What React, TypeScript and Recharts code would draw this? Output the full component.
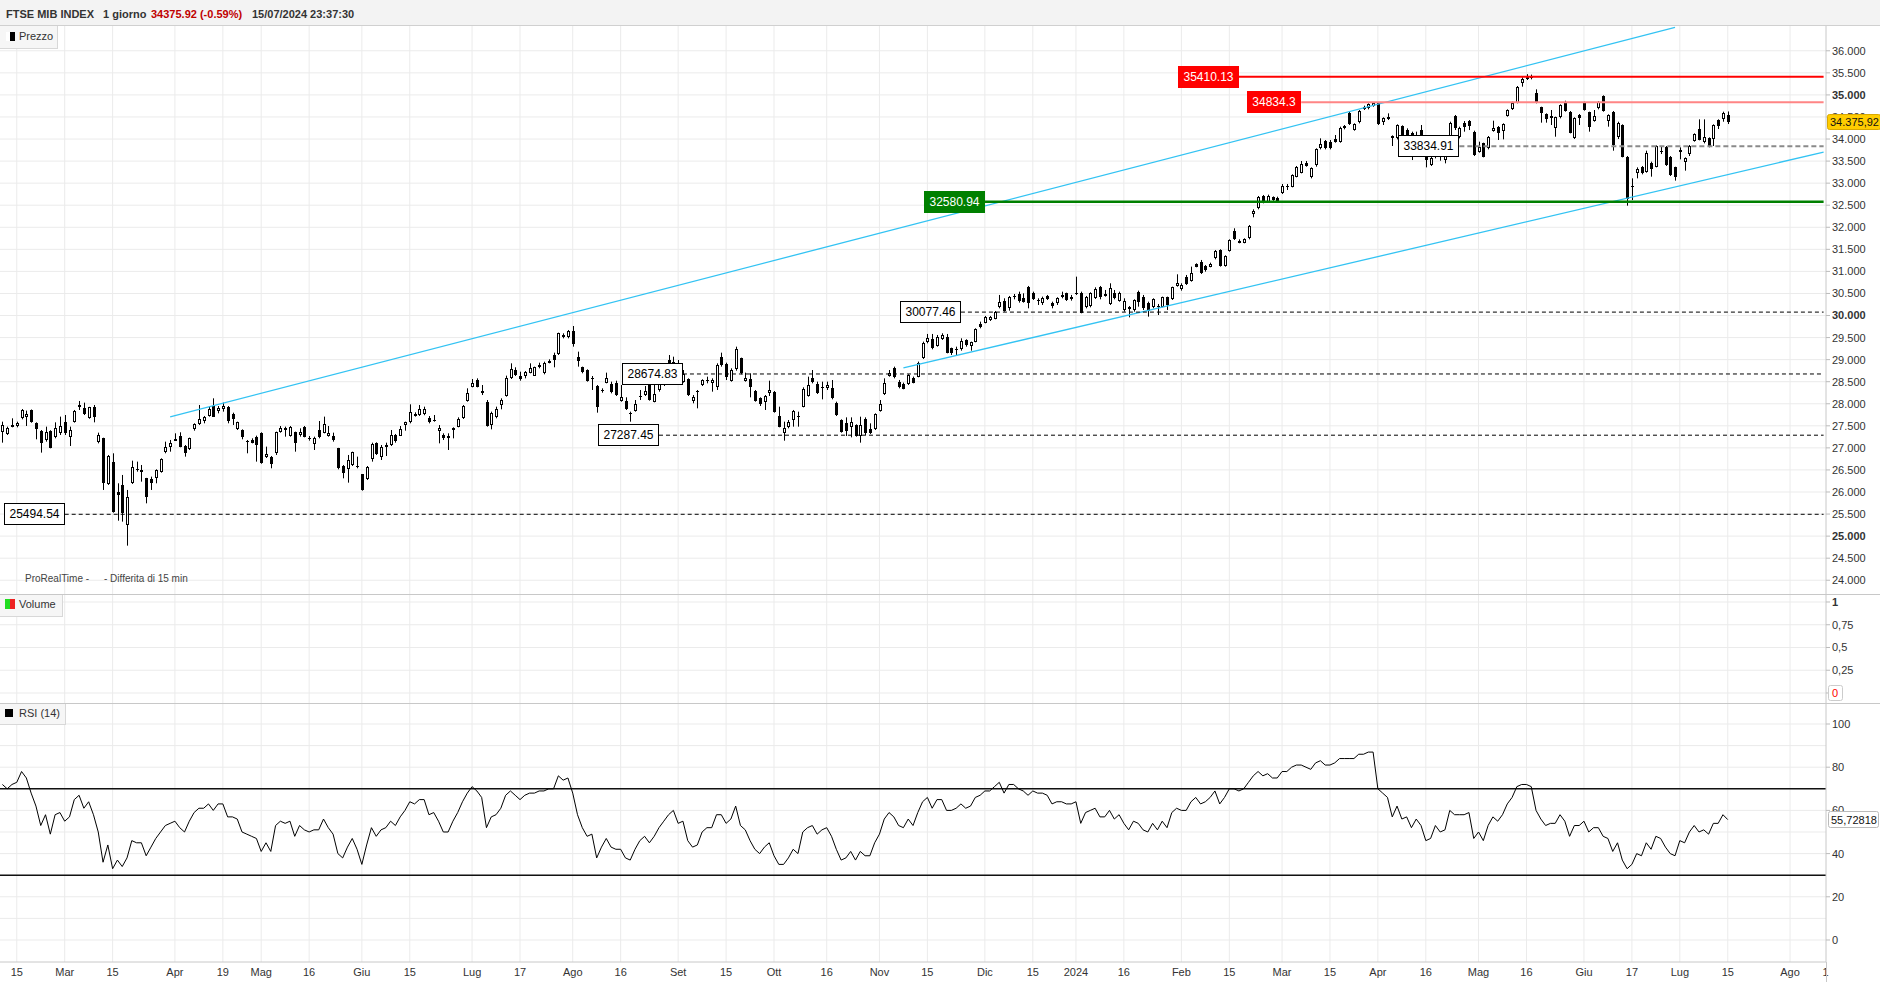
import React from 'react';
import { ComposedChart, Bar, Line, XAxis, YAxis, CartesianGrid, ReferenceLine } from 'recharts';

const FONT = '"Liberation Sans", Arial, Helvetica, sans-serif';

// FTSE MIB daily candles, 10 Feb 2023 -> 15 Jul 2024 : [open, high, low, close]
const ohlc: number[][] = [
  [27368,27594,27118,27519],[27307,27481,27292,27443],[27519,27670,27466,27525],[27496,27594,27466,27557],[27670,27881,27647,27859],
  [27692,27844,27496,27768],[27859,27870,27570,27579],[27557,27579,27194,27420],[27390,27405,26892,27103],[27179,27481,27141,27368],
  [27390,27400,26990,26995],[27239,27579,27217,27443],[27330,27708,27292,27496],[27579,27745,27292,27330],[27239,27481,27043,27405],
  [27579,27859,27572,27844],[27965,28063,27859,27980],[27897,28025,27745,27768],[27670,27930,27660,27919],[27934,27972,27579,27692],
  [27141,27345,27103,27292],[27217,27230,26046,26197],[26182,26839,26159,26816],[26688,26877,25532,25554],[26008,26197,25350,25932],
  [26159,26386,25328,25517],[25252,26046,24784,25894],[26197,26710,26182,26559],[26530,26688,26461,26515],[26499,26612,26234,26461],
  [26310,26320,25743,25894],[26295,26348,26046,26212],[26310,26514,26197,26499],[26461,26763,26438,26741],[26899,27141,26877,27028],
  [27028,27179,26914,27118],[27190,27330,27179,27200],[27269,27353,27013,27028],[27043,27065,26801,26877],[26967,27232,26952,27217],
  [27420,27557,27390,27534],[27534,27972,27519,27647],[27617,27723,27557,27708],[27730,27934,27708,27874],[27949,28123,27700,27708],
  [27844,27949,27783,27912],[27874,28025,27821,27949],[27934,27949,27557,27617],[27761,27798,27519,27647],[27420,27594,27405,27579],
  [27405,27420,27194,27239],[27150,27179,26877,27135],[27179,27217,27103,27118],[27254,27277,26688,27065],[27345,27353,26640,26650],
  [26786,27028,26770,26854],[26801,26816,26537,26635],[26877,27368,26839,27353],[27368,27496,27345,27451],[27443,27481,27254,27405],
  [27277,27496,27254,27466],[27353,27368,26914,27103],[27292,27443,27254,27368],[27481,27496,27239,27254],[27232,27269,27164,27194],
  [27088,27254,26952,27232],[27405,27609,27217,27239],[27345,27708,27330,27541],[27277,27496,27254,27345],[27269,27345,27141,27179],
  [26990,27000,26514,26537],[26589,26612,26310,26424],[26514,26839,26212,26725],[26612,26914,26589,26899],[26580,26801,26537,26570],
  [26401,26408,26030,26046],[26287,26589,26272,26574],[26748,27118,26688,27088],[27118,27126,26839,26854],[26801,27065,26725,27028],
  [27013,27118,26816,27065],[27065,27405,27043,27292],[27292,27315,27118,27164],[27277,27496,27269,27420],[27519,27594,27390,27579],
  [27579,27987,27557,27806],[27755,27806,27708,27765],[27745,27972,27723,27874],[27775,27934,27740,27874],[27685,27722,27556,27579],
  [27640,27745,27594,27625],[27390,27518,27103,27443],[27292,27330,27179,27216],[27277,27330,26952,27216],[27405,27466,27216,27443],
  [27481,27692,27466,27647],[27670,27972,27655,27949],[28070,28350,28047,28236],[28387,28561,28372,28478],[28538,28576,28372,28387],
  [28297,28425,28198,28236],[28047,28085,27481,27496],[27518,27821,27420,27798],[27707,27934,27670,27874],[27972,28123,27874,28085],
  [28176,28637,28161,28576],[28576,28916,28561,28780],[28765,28826,28629,28652],[28629,28727,28523,28554],[28629,28742,28576,28727],
  [28705,28916,28690,28818],[28637,28841,28629,28826],[28826,28931,28803,28878],[28690,28954,28667,28916],[28931,29007,28916,28977],
  [29105,29158,28826,28992],[29128,29611,29105,29596],[29558,29596,29483,29506],[29506,29672,29483,29649],[29657,29762,29294,29354],
  [29052,29181,28841,28977],[28826,28841,28690,28712],[28765,28780,28501,28523],[28580,28629,28312,28570],[28402,28425,27798,27934],
  [28318,28350,28251,28305],[28478,28705,28463,28576],[28448,28501,28236,28274],[28478,28523,28176,28198],[28070,28425,28047,28161],
  [28070,28146,27859,27874],[27790,27821,27594,27775],[27843,28085,27821,27987],[28165,28312,28085,28155],[28198,28402,28176,28289],
  [28448,28501,28070,28085],[28047,28425,28032,28213],[28312,28501,28274,28463],[28425,28727,28402,28652],[28992,29105,28765,28803],
  [28727,29067,28690,28954],[28916,28992,28576,28614],[28501,28765,28478,28674],[28554,28576,28176,28198],[28070,28198,28010,28161],
  [28280,28312,27896,28268],[28425,28554,28402,28538],[28530,28614,28463,28516],[28478,28576,28274,28538],[28387,28916,28312,28878],
  [29052,29158,28841,28878],[28901,28931,28538,28614],[28523,28803,28501,28765],[28780,29294,28750,29234],[29030,29045,28667,28690],
  [28523,28705,28501,28576],[28554,28690,28146,28387],[28297,28312,28047,28070],[28123,28146,27949,27987],[28047,28198,27859,28176],
  [28236,28523,28176,28312],[28274,28289,27798,27821],[27722,27934,27466,27481],[27345,27594,27163,27443],[27466,27632,27443,27594],
  [27632,27859,27481,27843],[27722,27821,27481,27692],[27934,28372,27919,28327],[28176,28614,28161,28425],[28576,28765,28463,28501],
  [28448,28501,28221,28236],[28380,28501,28100,28365],[28350,28501,28312,28425],[28350,28538,28100,28123],[28025,28047,27722,27745],
  [27632,27647,27345,27367],[27556,27692,27269,27390],[27481,27692,27239,27594],[27518,27534,27254,27269],[27269,27707,27118,27518],
  [27647,27692,27292,27330],[27420,27556,27315,27345],[27420,27783,27405,27760],[27843,28085,27821,27987],[28221,28576,28198,28478],
  [28629,28765,28614,28705],[28803,28841,28576,28614],[28501,28539,28350,28388],[28448,28479,28328,28343],[28448,28667,28426,28652],
  [28592,28615,28463,28479],[28615,28955,28600,28932],[29030,29408,29015,29370],[29393,29582,29370,29483],[29461,29582,29234,29257],
  [29317,29559,29294,29521],[29468,29597,29446,29559],[29506,29582,29143,29159],[29257,29272,29106,29143],[29240,29294,29091,29228],
  [29234,29483,29204,29423],[29446,29461,29294,29332],[29310,29408,29204,29393],[29408,29710,29393,29687],[29808,29861,29710,29733],
  [29838,29990,29823,29959],[29899,29990,29876,29959],[29922,30103,29914,30088],[30186,30466,30163,30314],[30337,30390,30088,30103],
  [30163,30443,30110,30428],[30450,30488,30367,30436],[30488,30541,30292,30337],[30390,30503,30292,30314],[30639,30670,30163,30277],
  [30503,30541,30352,30375],[30345,30390,30239,30330],[30277,30428,30239,30390],[30450,30466,30352,30375],[30292,30314,30163,30216],
  [30277,30413,30239,30390],[30466,30541,30390,30413],[30503,30518,30330,30352],[30413,30466,30337,30367],[30518,30881,30466,30488],
  [30518,30541,30050,30065],[30186,30443,30163,30428],[30216,30526,30186,30503],[30390,30639,30375,30594],[30639,30670,30367,30413],
  [30488,30579,30428,30450],[30262,30730,30239,30617],[30503,30579,30367,30390],[30337,30541,30314,30518],[30126,30390,30088,30337],
  [30186,30216,29959,30148],[30126,30367,30088,30352],[30541,30564,30201,30314],[30428,30466,30126,30163],[30292,30314,29974,30110],
  [30186,30390,30163,30367],[30225,30262,30012,30208],[30201,30428,30186,30413],[30413,30428,30126,30239],[30367,30654,30352,30639],
  [30670,30934,30654,30745],[30594,30730,30564,30692],[30881,30919,30692,30715],[30790,31108,30768,30957],[31168,31183,31093,31108],
  [31221,31259,30941,30972],[31123,31145,30994,31032],[31108,31198,31093,31168],[31297,31485,31274,31470],[31485,31501,31108,31123],
  [31123,31365,31108,31350],[31470,31727,31448,31712],[31924,31977,31712,31727],[31697,31727,31637,31652],[31652,31750,31637,31727],
  [31750,32052,31727,32029],[32301,32407,32226,32377],[32430,32709,32407,32694],[32709,32732,32543,32581],[32581,32740,32560,32709],
  [32678,32700,32600,32618],[32656,32693,32580,32595],[32769,32981,32754,32935],[32925,32981,32845,32915],[32920,33200,32905,33185],
  [33147,33389,33132,33373],[33237,33502,33222,33434],[33464,33502,33373,33389],[33147,33358,33109,33336],[33411,33789,33373,33766],
  [33789,34016,33766,33887],[33963,33978,33766,33789],[33940,33978,33766,33789],[34001,34091,33917,33940],[33940,34280,33917,34257],
  [34242,34318,34220,34295],[34597,34620,34318,34333],[34204,34356,34189,34340],[34378,34658,34356,34643],[34673,34756,34658,34733],
  [34696,34809,34673,34786],[34756,34825,34733,34815],[34824,34834.3,34318,34340],[34393,34492,34318,34469],[34492,34582,34431,34446],
  [34068,34084,33842,34031],[34016,34333,33993,34318],[34295,34310,33993,34016],[34204,34242,33978,34053],[34129,34167,33524,33827],
  [33827,34167,33789,34068],[34204,34318,33842,33902],[33827,33902,33358,33524],[33404,33638,33389,33577],[33600,33902,33562,33866],
  [33978,34016,33509,33675],[33524,33827,33449,33751],[33978,34393,33940,34356],[34522,34545,34204,34242],[34053,34280,34016,34242],
  [34371,34408,34167,34280],[34408,34431,34204,34295],[34167,34189,33615,33638],[33713,33940,33691,33827],[33902,33917,33585,33600],
  [33789,34068,33766,34038],[34189,34416,34167,34242],[34280,34295,33978,34144],[34189,34356,33993,34333],[34522,34673,34507,34658],
  [34673,34847,34658,34824],[34824,35202,34809,35172],[35277,35398,35187,35353],[35390,35470,35338,35410],[35400,35460,35353,35385],
  [35051,35126,34809,34824],[34718,34733,34371,34597],[34567,34582,34371,34446],[34522,34658,34318,34469],[34242,34507,34053,34492],
  [34492,34786,34469,34771],[34847,34869,34620,34643],[34620,34635,34129,34144],[34016,34492,34001,34469],[34545,34567,34318,34469],
  [34809,34847,34643,34658],[34605,34620,34167,34265],[34416,34658,34393,34522],[34696,34862,34673,34832],[34975,34990,34620,34643],
  [34416,34560,34280,34545],[34605,34635,33736,33864],[34038,34393,34001,34371],[34318,34333,33585,33600],[33600,33615,32490,32633],
  [32935,33109,32618,32905],[33222,33358,33109,33313],[33358,33389,33200,33222],[33260,33736,33237,33675],[33464,33487,33147,33313],
  [33373,33857,33358,33842],[33720,33842,33660,33705],[33811,33842,33389,33411],[33585,33615,33162,33185],[33358,33373,33057,33147],
  [33751,33811,33540,33713],[33487,33585,33283,33562],[33660,33865,33615,33842],[33963,34129,33940,34114],[34227,34446,33970,33978],
  [33940,34446,33902,34038],[34016,34038,33812,33842],[33993,34333,33842,34318],[34431,34446,34227,34295],[34446,34620,34393,34580],
  [34540,34625,34340,34375.92],
];

// RSI(14), one value per candle
const rsi14: number[] = [
  72,70,72,73,78,75,68,62,53,58, 49,58,59,55,57,65,67,61,64,58,
  50,36,44,33,37,34,38,46,45,45, 39,43,47,50,53,54,55,52,50,55,
  59,61,61,63,60,63,63,57,57,56, 50,49,48,47,41,45,41,53,55,54,
  55,48,53,51,50,51,51,56,52,49, 40,38,43,47,42,35,44,52,48,51,
  52,55,53,57,60,64,63,65,65,58, 59,55,50,50,55,59,64,68,71,69,
  66,52,57,58,61,67,69,67,65,67, 68,68,69,69,70,70,76,74,75,68,
  58,52,48,49,38,43,47,43,42,42, 38,37,42,46,48,45,48,52,55,58,
  60,54,55,46,43,44,50,52,52,58, 58,54,56,62,53,51,46,42,40,43,
  45,39,35,35,38,42,40,50,52,53, 49,51,52,48,42,37,38,41,37,41,
  39,39,45,49,56,59,57,53,52,56, 53,59,64,66,61,65,65,60,60,61,
  63,61,62,66,67,69,69,71,73,68, 72,72,70,69,67,69,68,68,67,63,
  64,64,63,63,64,54,59,60,61,57, 57,60,56,58,54,51,55,54,51,50,
  54,51,55,52,59,61,60,60,64,66, 63,64,66,69,63,66,70,70,69,70,
  73,76,78,76,77,75,75,78,78,80, 81,81,80,79,82,83,81,81,82,84,
  84,84,84,86,86,87,87,70,68,66, 57,62,56,57,52,56,53,46,47,53,
  50,51,60,58,58,58,59,47,50,46, 53,57,55,58,63,66,71,72,72,71,
  60,56,53,54,54,58,55,48,53,53, 55,50,52,52,48,47,41,45,37,33,
  35,40,39,45,42,48,47,43,40,39, 46,45,50,53,50,51,49,54,54,58,
  55.72818,
];

const futureSlots = 20; // empty trading days shown after the last candle
const lastClose = 34375.92;
const lastRsi = 55.72818;

const xTickIdx = [3,13,23,36,46,54,64,75,85,98,108,119,129,141,151,161,172,183,193,205,215,224,234,246,256,267,277,287,297,308,318,330,340,350,360,373,380.4];
const xTickText = ['15','Mar','15','Apr','19','Mag','16','Giu','15','Lug','17','Ago','16','Set','15','Ott','16','Nov','15','Dic','15','2024','16','Feb','15','Mar','15','Apr','16','Mag','16','Giu','17','Lug','15','Ago','1'];

const priceTicks = [24000,24500,25000,25500,26000,26500,27000,27500,28000,28500,29000,29500,30000,30500,31000,31500,32000,32500,33000,33500,34000,34500,35000,35500,36000];
const volTicks = [0, 0.25, 0.5, 0.75, 1];
const rsiTicks = [0, 20, 40, 60, 80, 100];
const rsiGrid = [0, 10, 20, 30, 40, 50, 60, 70, 80, 90, 100];

// horizontal levels drawn on the chart (value, first candle index of the line, look)
const levelValues = [25494.54, 27287.45, 28674.83, 30077.46, 33834.91, 35410.13, 34834.3, 32580.94];
const levelFrom = [13, 137, 142, 200, 304, 258, 271, 205];
const levelKind = ['plain', 'plain', 'plain', 'plain', 'gray', 'red', 'pink', 'green'];

// channel trend lines: [startIndex, startPrice, endIndex, endPrice]
const trendLines = [
  [35, 27704, 349, 36533],
  [188, 28813, 380, 33704],
];

const levelLook: Record<string, any> = {
  plain: { box: '#ffffff', border: '#000000', text: '#000000', line: '#000000', width: 1, dash: '4 3' },
  gray: { box: '#ffffff', border: '#000000', text: '#000000', line: '#8a8a8a', width: 2, dash: '5 3' },
  red: { box: '#ff0000', border: '#ff0000', text: '#ffffff', line: '#ff0000', width: 2, dash: undefined },
  pink: { box: '#ff0000', border: '#ff0000', text: '#ffffff', line: '#ff8585', width: 2, dash: undefined },
  green: { box: '#008000', border: '#008000', text: '#ffffff', line: '#008000', width: 2.5, dash: undefined },
};

const rows = Array.from({ length: ohlc.length + futureSlots }, (_, i) => {
  const k = ohlc[i];
  return {
    i,
    o: k ? k[0] : null,
    h: k ? k[1] : null,
    l: k ? k[2] : null,
    c: k ? k[3] : null,
    rsi: i < rsi14.length ? rsi14[i] : null,
  };
});
const lastSlot = rows.length - 1;
const gridIdx = xTickIdx.filter((v) => Number.isInteger(v));
const X_DOMAIN = [-0.5, lastSlot + 0.5];
const PRICE_DOMAIN = [23688, 36562];
const RSI_DOMAIN = [-10.19, 109.26];

const fmtIt = (v: number, dec: number) => {
  const [a, b] = v.toFixed(dec).split('.');
  return a.replace(/\B(?=(\d{3})+(?!\d))/g, '.') + (b ? ',' + b : '');
};

const candleRange = (d: any) => (d.h == null ? null : [d.l, d.h]);

const Candle = (props: any) => {
  const { x, y, width, height, payload } = props;
  if (!payload || payload.o == null || x == null || y == null) return <g />;
  const { o, h, l, c } = payload;
  const top = Math.min(y, y + height);
  const bot = Math.max(y, y + height);
  const span = h - l;
  const py = (p: number) => (span === 0 ? top : top + ((h - p) / span) * (bot - top));
  const c0 = Math.round(x + width / 2);
  const up = c >= o;
  const bt = Math.round(py(Math.max(o, c)));
  const bb = Math.round(py(Math.min(o, c)));
  const bh = Math.max(bb - bt, 1);
  return (
    <g>
      <line x1={c0 + 0.5} x2={c0 + 0.5} y1={top} y2={bot} stroke="#000" strokeWidth={1} />
      {up ? (
        <rect x={c0 - 0.5} y={bt + 0.5} width={2} height={Math.max(bh - 1, 1)} fill="#fff" stroke="#000" strokeWidth={1} />
      ) : (
        <rect x={c0 - 1} y={bt} width={3} height={bh} fill="#000" />
      )}
    </g>
  );
};

const LevelBox = ({ viewBox, text, kind }: any) => {
  if (!viewBox) return null;
  const st = levelLook[kind];
  let w = 11;
  for (const ch of text) w += ch === '.' ? 3.34 : 6.67;
  w = Math.round(w);
  const right = Math.round(viewBox.x);
  const cy = Math.round(viewBox.y);
  return (
    <g>
      <rect x={right - w + 0.5} y={cy - 10.5} width={w - 1} height={21} fill={st.box} stroke={st.border} strokeWidth={1} />
      <text x={right - w / 2} y={cy} dy="0.36em" textAnchor="middle" fontSize={12} fill={st.text} fontFamily={FONT}>
        {text}
      </text>
    </g>
  );
};

const PriceTag = ({ viewBox }: any) => {
  if (!viewBox) return null;
  const x = viewBox.x + viewBox.width + 1;
  const cy = Math.round(viewBox.y);
  return (
    <g>
      <rect x={x + 0.5} y={cy - 7.5} width={53} height={15} rx={2} fill="#ffcc00" stroke="#d9a800" />
      <text x={x + 3} y={cy} dy="0.36em" fontSize={11} fill="#111" fontFamily={FONT}>{fmtIt(lastClose, 2)}</text>
    </g>
  );
};

const RsiTag = ({ viewBox }: any) => {
  if (!viewBox) return null;
  const x = viewBox.x + viewBox.width + 2;
  const cy = Math.round(viewBox.y);
  return (
    <g>
      <rect x={x + 0.5} y={cy - 8.5} width={50} height={16} rx={2} fill="#ffffff" stroke="#bbbbbb" />
      <text x={x + 3} y={cy} dy="0.36em" fontSize={11} fill="#111" fontFamily={FONT}>{fmtIt(lastRsi, 5)}</text>
    </g>
  );
};

const PriceTick = (p: any) => {
  const v = p.payload.value;
  return (
    <text x={p.x} y={p.y} dy="0.36em" fontSize={11} fill="#333" fontFamily={FONT} fontWeight={v % 5000 === 0 ? 'bold' : 'normal'} textAnchor="start">
      {(v / 1000).toFixed(3)}
    </text>
  );
};

const VolTick = (p: any) => {
  const v = p.payload.value;
  if (v === 0) {
    return (
      <g>
        <rect x={p.x - 3.5} y={p.y - 7.5} width={14} height={15} rx={2} fill="#fff" stroke="#cccccc" />
        <text x={p.x} y={p.y} dy="0.36em" fontSize={11} fill="#ff0000" fontFamily={FONT}>0</text>
      </g>
    );
  }
  return (
    <text x={p.x} y={p.y} dy="0.36em" fontSize={11} fill="#333" fontFamily={FONT} fontWeight={v === 1 ? 'bold' : 'normal'} textAnchor="start">
      {String(v).replace('.', ',')}
    </text>
  );
};

const RsiTick = (p: any) => (
  <text x={p.x} y={p.y} dy="0.36em" fontSize={11} fill="#333" fontFamily={FONT} textAnchor="start">
    {p.payload.value}
  </text>
);

const fmtX = (v: number) => {
  const k = xTickIdx.indexOf(v);
  return k >= 0 ? xTickText[k] : '';
};

const M = { top: 0, right: 0, bottom: 0, left: 0 };
const GRID = '#ebebeb';

const panelLabel: React.CSSProperties = {
  position: 'absolute',
  left: 0,
  background: '#f6f6f6',
  borderRight: '1px solid #d8d8d8',
  borderBottom: '1px solid #d8d8d8',
  boxSizing: 'border-box',
  fontSize: 11,
  color: '#333',
};

// transparent overlay chart used to draw the last-value tags above the axis labels
const TagOverlay = ({ height, domain, value, Tag, top }: any) => (
  <div style={{ position: 'absolute', left: 0, top, pointerEvents: 'none' }}>
    <ComposedChart width={1880} height={height} data={rows} margin={M}>
      <XAxis dataKey="i" type="number" domain={X_DOMAIN} allowDataOverflow hide />
      <YAxis type="number" orientation="right" width={54} domain={domain} allowDataOverflow tick={false} tickLine={false} axisLine={false} />
      <ReferenceLine y={value} stroke="transparent" ifOverflow="visible" label={(p: any) => <Tag viewBox={p.viewBox} />} />
    </ComposedChart>
  </div>
);

export default function App() {
  return (
    <div style={{ position: 'absolute', left: 0, top: 0, width: 1880, height: 982, background: '#fff', overflow: 'hidden', fontFamily: FONT }}>
      {/* header */}
      <div style={{ position: 'absolute', left: 0, top: 0, width: 1880, height: 26, background: '#f3f3f3', borderBottom: '1px solid #d0d0d0', boxSizing: 'border-box' }}>
        <span style={{ position: 'absolute', left: 6, top: 8, fontSize: 11, lineHeight: '13px', fontWeight: 'bold', color: '#333', whiteSpace: 'nowrap' }}>FTSE MIB INDEX</span>
        <span style={{ position: 'absolute', left: 103, top: 8, fontSize: 11, lineHeight: '13px', fontWeight: 'bold', color: '#333', whiteSpace: 'nowrap' }}>1 giorno</span>
        <span style={{ position: 'absolute', left: 151, top: 8, fontSize: 11, lineHeight: '13px', fontWeight: 'bold', color: '#c00000', whiteSpace: 'nowrap' }}>34375.92 (-0.59%)</span>
        <span style={{ position: 'absolute', left: 252, top: 8, fontSize: 11, lineHeight: '13px', fontWeight: 'bold', color: '#333', whiteSpace: 'nowrap' }}>15/07/2024 23:37:30</span>
      </div>

      {/* price panel */}
      <div style={{ position: 'absolute', left: 0, top: 26 }}>
        <ComposedChart width={1880} height={568} data={rows} margin={M}>
          <CartesianGrid stroke={GRID} horizontalValues={priceTicks} verticalValues={gridIdx} syncWithTicks />
          <XAxis dataKey="i" type="category" hide interval={0} />
          <YAxis
            type="number"
            orientation="right"
            width={54}
            domain={PRICE_DOMAIN}
            allowDataOverflow
            ticks={priceTicks}
            interval={0}
            tick={<PriceTick />}
            tickSize={4}
            tickLine={{ stroke: '#bbbbbb' }}
            axisLine={{ stroke: '#c8c8c8' }}
          />
          <Bar dataKey={candleRange} shape={<Candle />} isAnimationActive={false} />
          {trendLines.map((t, k) => (
            <ReferenceLine
              key={'t' + k}
              segment={[{ x: t[0], y: t[1] }, { x: t[2], y: t[3] }]}
              stroke="#33c3f3"
              strokeWidth={1.3}
              ifOverflow="hidden"
            />
          ))}
          {levelValues.map((v, k) => {
            const st = levelLook[levelKind[k]];
            return (
              <ReferenceLine
                key={'l' + k}
                segment={[{ x: levelFrom[k], y: v }, { x: lastSlot, y: v }]}
                stroke={st.line}
                strokeWidth={st.width}
                strokeDasharray={st.dash}
                ifOverflow="visible"
                label={(p: any) => <LevelBox viewBox={p.viewBox} text={String(v)} kind={levelKind[k]} />}
              />
            );
          })}
        </ComposedChart>
      </div>
      <TagOverlay top={26} height={568} domain={PRICE_DOMAIN} value={lastClose} Tag={PriceTag} />
      <div style={{ ...panelLabel, top: 26, width: 58, height: 23 }}>
        <div style={{ position: 'absolute', left: 6, top: 6, width: 5, height: 9, background: '#fff' }} />
        <div style={{ position: 'absolute', left: 10, top: 6, width: 5, height: 9, background: '#000' }} />
        <span style={{ position: 'absolute', left: 19, top: 4, lineHeight: '13px' }}>Prezzo</span>
      </div>
      <div style={{ position: 'absolute', left: 25, top: 573, fontSize: 10, lineHeight: '12px', color: '#444', whiteSpace: 'nowrap' }}>ProRealTime -</div>
      <div style={{ position: 'absolute', left: 104, top: 573, fontSize: 10, lineHeight: '12px', color: '#444', whiteSpace: 'nowrap' }}>- Differita di 15 min</div>

      <div style={{ position: 'absolute', left: 0, top: 594, width: 1880, height: 1, background: '#c8c8c8' }} />

      {/* volume panel */}
      <div style={{ position: 'absolute', left: 0, top: 595 }}>
        <ComposedChart width={1880} height={108} data={rows} margin={M}>
          <CartesianGrid stroke={GRID} horizontalValues={volTicks} verticalValues={gridIdx} syncWithTicks />
          <XAxis dataKey="i" type="number" domain={X_DOMAIN} allowDataOverflow hide interval={0} ticks={gridIdx} />
          <YAxis
            type="number"
            orientation="right"
            width={54}
            domain={[-0.1099, 1.0769]}
            allowDataOverflow
            ticks={volTicks}
            interval={0}
            tick={<VolTick />}
            tickSize={4}
            tickLine={{ stroke: '#bbbbbb' }}
            axisLine={{ stroke: '#c8c8c8' }}
          />
        </ComposedChart>
      </div>
      <div style={{ ...panelLabel, top: 595, width: 63, height: 22 }}>
        <div style={{ position: 'absolute', left: 5, top: 4, width: 5, height: 10, background: '#22dd22' }} />
        <div style={{ position: 'absolute', left: 10, top: 4, width: 5, height: 10, background: '#ee2222' }} />
        <span style={{ position: 'absolute', left: 19, top: 3, lineHeight: '13px' }}>Volume</span>
      </div>

      <div style={{ position: 'absolute', left: 0, top: 703, width: 1880, height: 1, background: '#c8c8c8' }} />

      {/* RSI panel */}
      <div style={{ position: 'absolute', left: 0, top: 704 }}>
        <ComposedChart width={1880} height={278} data={rows} margin={M}>
          <CartesianGrid stroke={GRID} horizontalValues={rsiGrid} verticalValues={gridIdx} syncWithTicks />
          <XAxis
            dataKey="i"
            type="number"
            domain={X_DOMAIN}
            allowDataOverflow
            ticks={xTickIdx}
            interval={0}
            tickFormatter={fmtX}
            height={20}
            tickSize={0}
            tickMargin={6}
            axisLine={{ stroke: '#c8c8c8' }}
            tick={{ fontSize: 11, fill: '#333', fontFamily: FONT }}
          />
          <YAxis
            type="number"
            orientation="right"
            width={54}
            domain={RSI_DOMAIN}
            allowDataOverflow
            ticks={rsiTicks}
            interval={0}
            tick={<RsiTick />}
            tickSize={4}
            tickLine={{ stroke: '#bbbbbb' }}
            axisLine={{ stroke: '#c8c8c8' }}
          />
          <ReferenceLine y={70} stroke="#111" strokeWidth={1.5} />
          <ReferenceLine y={30} stroke="#111" strokeWidth={1.5} />
          <Line dataKey="rsi" stroke="#000" strokeWidth={1} dot={false} isAnimationActive={false} connectNulls={false} />
        </ComposedChart>
      </div>
      <TagOverlay top={704} height={258} domain={RSI_DOMAIN} value={lastRsi} Tag={RsiTag} />
      <div style={{ ...panelLabel, top: 704, width: 66, height: 21 }}>
        <div style={{ position: 'absolute', left: 5, top: 5, width: 8, height: 8, background: '#000' }} />
        <span style={{ position: 'absolute', left: 19, top: 3, lineHeight: '13px' }}>RSI (14)</span>
      </div>

      <div style={{ position: 'absolute', left: 1826, top: 962, width: 1, height: 20, background: '#c8c8c8' }} />
    </div>
  );
}
